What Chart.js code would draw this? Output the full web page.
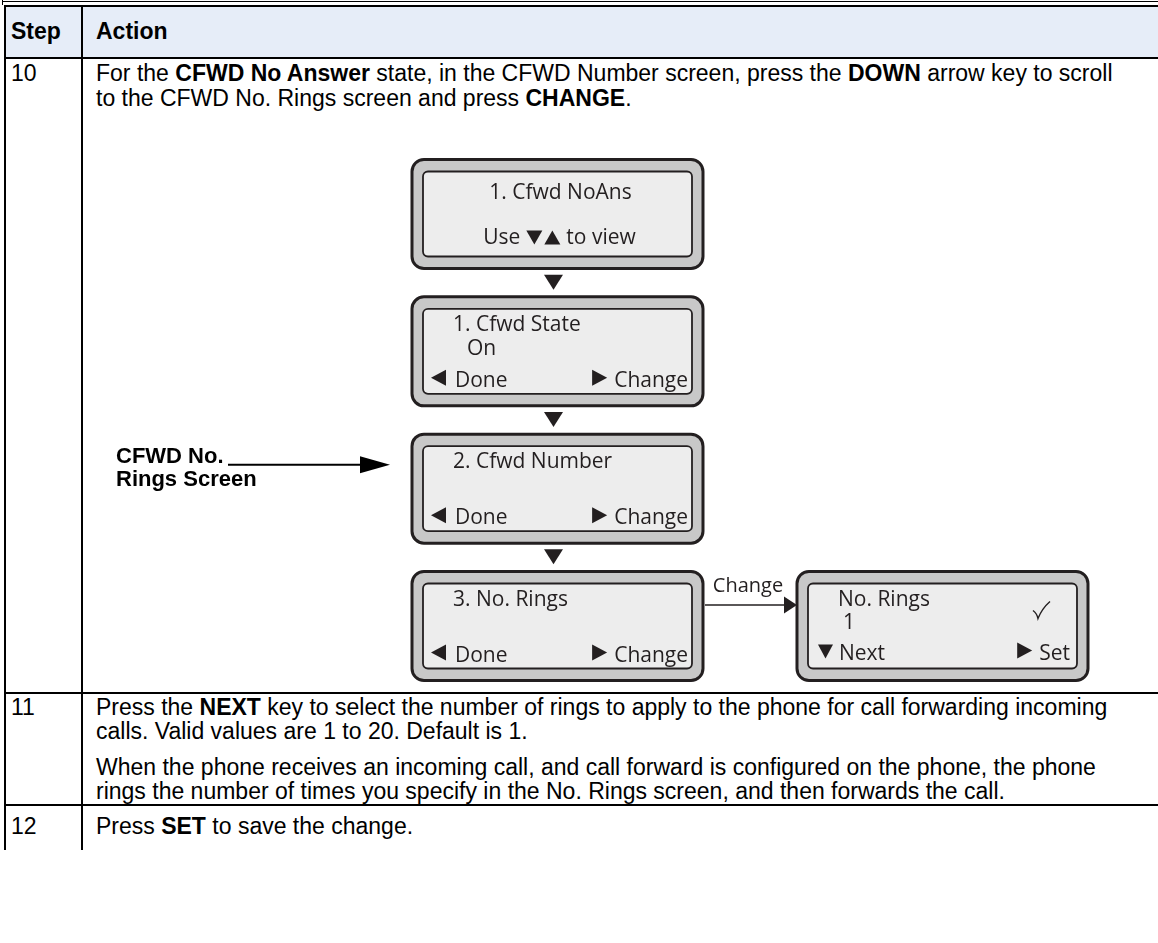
<!DOCTYPE html>
<html><head><meta charset="utf-8">
<script src="https://cdn.jsdelivr.net/npm/chart.js@4.4.1/dist/chart.umd.min.js"></script>
<style>
html,body{margin:0;padding:0;background:#fff;}
body{width:1158px;height:943px;position:relative;overflow:hidden;font-family:"Liberation Sans",Arial,sans-serif;color:#000;}
.ln{position:absolute;background:#000;}
.hdr{position:absolute;background:#e6edf8;}
.t{position:absolute;font-size:23px;white-space:nowrap;line-height:24px;}
.t b{font-weight:bold;}
#diag{position:absolute;left:90px;top:140px;}
</style></head><body>
<div class="ln" style="left:2px;top:1px;width:1156px;height:1px;"></div>
<div class="ln" style="left:2px;top:0px;width:1px;height:5px;"></div>
<div class="hdr" style="left:6px;top:7px;width:1152px;height:50px;"></div>
<div class="ln" style="left:4px;top:5px;width:1154px;height:2px;"></div>
<div class="ln" style="left:4px;top:57px;width:1154px;height:2px;"></div>
<div class="ln" id="leftB" style="left:4px;top:5px;width:2px;"></div>
<div class="ln" id="colB" style="left:81px;top:5px;width:2px;"></div>
<div class="ln" id="r10" style="left:4px;width:1154px;height:2px;"></div>
<div class="ln" id="r11" style="left:4px;width:1154px;height:2px;"></div>
<div id="texts"></div>
<canvas id="diag" width="1060" height="550"></canvas>
<script>
// ---- table content ----
const headerLabels = ['Step', 'Action'];
const stepNumbers = ['10', '11', '12'];
const row10Lines = [
  'For the <b>CFWD No Answer</b> state, in the CFWD Number screen, press the <b>DOWN</b> arrow key to scroll',
  'to the CFWD No. Rings screen and press <b>CHANGE</b>.'
];
const row11Lines = [
  'Press the <b>NEXT</b> key to select the number of rings to apply to the phone for call forwarding incoming',
  'calls. Valid values are 1 to 20. Default is 1.',
  'When the phone receives an incoming call, and call forward is configured on the phone, the phone',
  'rings the number of times you specify in the No. Rings screen, and then forwards the call.'
];
const row12Lines = ['Press <b>SET</b> to save the change.'];

// ---- diagram content (one entry per phone screen) ----
const screenCols  = [0, 0, 0, 0, 1];
const screenRows  = [0, 1, 2, 3, 3];
const screenTitle = ['1. Cfwd NoAns', '1. Cfwd State', '2. Cfwd Number', '3. No. Rings', 'No. Rings'];
const screenValue = ['Use ▼▲ to view', 'On', '', '', '1'];
const softLeftIcon  = ['', '◀', '◀', '◀', '▼'];
const softLeftText  = ['', 'Done', 'Done', 'Done', 'Next'];
const softRightIcon = ['', '▶', '▶', '▶', '▶'];
const softRightText = ['', 'Change', 'Change', 'Change', 'Set'];
const screenMark  = ['', '', '', '', '✓'];
const connectorLabel = 'Change';
const calloutLines = ['CFWD No.', 'Rings Screen'];
const calloutTarget = 2;

// ---- layout the table text ----
const texts = document.getElementById('texts');
function put(html, x, baseline, bold) {
  const d = document.createElement('div');
  d.className = 't';
  d.style.left = x + 'px';
  d.style.top = (baseline - 20) + 'px';
  if (bold) d.style.fontWeight = 'bold';
  d.innerHTML = html;
  texts.appendChild(d);
}
const TXT_X = 96, STEP_X = 11;
put(headerLabels[0], STEP_X, 39, true);
put(headerLabels[1], TXT_X, 39, true);
put(stepNumbers[0], STEP_X, 81);
row10Lines.forEach((l, i) => put(l, TXT_X, 81 + i * 25));
const r10Bottom = 692;
document.getElementById('r10').style.top = r10Bottom + 'px';
const r11 = [715, 739, 775, 799];
put(stepNumbers[1], STEP_X, r11[0]);
row11Lines.forEach((l, i) => put(l, TXT_X, r11[i]));
const r11Bottom = 804;
document.getElementById('r11').style.top = r11Bottom + 'px';
put(stepNumbers[2], STEP_X, 834);
row12Lines.forEach((l, i) => put(l, TXT_X, 834 + i * 25));
const tableBottom = 850;
document.getElementById('leftB').style.height = (tableBottom - 5) + 'px';
document.getElementById('colB').style.height = (tableBottom - 5) + 'px';

// ---- diagram via Chart.js ----
const BOX_W = 291, BOX_H = 109;
const INK = '#231f20';
const FONT = '"Open Sans", "Noto Sans", sans-serif';

function tri(ctx, dir, x0, y0, w, h) {
  ctx.beginPath();
  if (dir === '▼') { ctx.moveTo(x0, y0); ctx.lineTo(x0 + w, y0); ctx.lineTo(x0 + w / 2, y0 + h); }
  else if (dir === '▲') { ctx.moveTo(x0, y0 + h); ctx.lineTo(x0 + w, y0 + h); ctx.lineTo(x0 + w / 2, y0); }
  else if (dir === '◀') { ctx.moveTo(x0 + w, y0); ctx.lineTo(x0 + w, y0 + h); ctx.lineTo(x0, y0 + h / 2); }
  else { ctx.moveTo(x0, y0); ctx.lineTo(x0, y0 + h); ctx.lineTo(x0 + w, y0 + h / 2); }
  ctx.closePath();
  ctx.fill();
}

function drawScreen(ctx, i, cx, cy) {
  const L = cx - BOX_W / 2, T = cy - BOX_H / 2;
  ctx.save();
  ctx.beginPath();
  ctx.roundRect(L, T, BOX_W, BOX_H, 12);
  ctx.fillStyle = '#c8c8c8';
  ctx.fill();
  ctx.lineWidth = 3;
  ctx.strokeStyle = INK;
  ctx.stroke();
  ctx.beginPath();
  ctx.roundRect(L + 11, T + 12, BOX_W - 22, BOX_H - 24, 5);
  ctx.fillStyle = '#ededed';
  ctx.fill();
  ctx.lineWidth = 1.8;
  ctx.stroke();

  ctx.fillStyle = INK;
  ctx.font = '21px ' + FONT;
  ctx.textBaseline = 'alphabetic';
  const centered = softLeftText[i] === '';
  if (centered) {
    ctx.textAlign = 'center';
    ctx.fillText(screenTitle[i], cx + 3, T + 40);
    const parts = screenValue[i].split(/([▼▲])/).filter(s => s !== '');
    const base = T + 85;
    const widths = parts.map(p => (p === '▼' || p === '▲') ? 17 : ctx.measureText(p.trim()).width);
    const gap = 6;
    const total = widths.reduce((a, b) => a + b, 0) + gap * (parts.length - 1) - 6;
    let x = cx + 2 - total / 2;
    ctx.textAlign = 'left';
    parts.forEach((p, k) => {
      if (p === '▼' || p === '▲') {
        tri(ctx, p, x, base - 14, 16, 14);
        x += 16 + (parts[k + 1] === '▲' || parts[k + 1] === '▼' ? 2 : gap);
      } else {
        ctx.fillText(p.trim(), x, base);
        x += widths[k] + gap;
      }
    });
  } else {
    ctx.textAlign = 'left';
    const isLast = screenMark[i] !== '';
    ctx.fillText(screenTitle[i], L + 41, T + 34);
    if (screenValue[i]) ctx.fillText(screenValue[i], L + (isLast ? 46 : 55), T + (isLast ? 57 : 58));
    const sb = T + (isLast ? 88 : 90);
    if (softLeftIcon[i] === '▼') tri(ctx, '▼', L + 21, sb - 15, 15, 14);
    else tri(ctx, '◀', L + 19, sb - 17, 15, 16);
    ctx.fillText(softLeftText[i], L + (softLeftIcon[i] === '▼' ? 42 : 43), sb);
    ctx.textAlign = 'right';
    const rx = L + BOX_W - (isLast ? 18 : 15);
    ctx.fillText(softRightText[i], rx, sb);
    const tw = ctx.measureText(softRightText[i]).width;
    tri(ctx, '▶', rx - tw - 22, sb - 17, 15, 16);
    if (isLast) {
      ctx.beginPath();
      ctx.lineWidth = 1.4;
      ctx.moveTo(L + 236, T + 39);
      ctx.quadraticCurveTo(L + 240, T + 42, L + 241, T + 47);
      ctx.quadraticCurveTo(L + 245, T + 37, L + 253, T + 30);
      ctx.stroke();
    }
  }
  ctx.restore();
}

const screenPlugin = {
  id: 'screens',
  afterDatasetsDraw(chart) {
    const ctx = chart.ctx;
    const pts = chart.getDatasetMeta(0).data;
    ctx.save();
    ctx.fillStyle = INK;
    // vertical flow arrows in the first column
    for (let i = 0; i < pts.length - 1; i++) {
      if (screenCols[i] === screenCols[i + 1] && screenRows[i + 1] === screenRows[i] + 1) {
        const a = pts[i], b = pts[i + 1];
        const mid = ((a.y + BOX_H / 2) + (b.y - BOX_H / 2)) / 2;
        tri(ctx, '▼', a.x - 4 - 9.5, mid - 8, 19, 15);
      }
    }
    // horizontal "Change" connector
    for (let i = 0; i < pts.length - 1; i++) {
      if (screenRows[i] === screenRows[i + 1] && screenCols[i + 1] === screenCols[i] + 1) {
        const a = pts[i], b = pts[i + 1];
        const x1 = a.x + BOX_W / 2 + 2, x2 = b.x - BOX_W / 2;
        const y = a.y - 21;
        ctx.strokeStyle = INK;
        ctx.lineWidth = 1.5;
        ctx.beginPath();
        ctx.moveTo(x1, y); ctx.lineTo(x2 - 12, y); ctx.stroke();
        tri(ctx, '▶', x2 - 13, y - 8.5, 13, 17);
        ctx.font = '20px ' + FONT;
        ctx.textAlign = 'center';
        ctx.fillText(connectorLabel, (x1 + x2) / 2 - 3, y - 13);
      }
    }
    // callout pointing at the target screen
    const t = pts[calloutTarget];
    const ay = t.y - 24;
    const bx = t.x - BOX_W / 2;
    ctx.fillStyle = '#000';
    ctx.strokeStyle = '#000';
    ctx.font = 'bold 22px "Liberation Sans", Arial, sans-serif';
    ctx.textAlign = 'left';
    ctx.fillText(calloutLines[0], bx - 296, ay - 2);
    ctx.fillText(calloutLines[1], bx - 296, ay + 21);
    ctx.lineWidth = 2;
    ctx.beginPath();
    ctx.moveTo(bx - 184, ay); ctx.lineTo(bx - 50, ay); ctx.stroke();
    tri(ctx, '▶', bx - 52, ay - 8.5, 30, 17);
    ctx.restore();
    pts.forEach((p, i) => drawScreen(ctx, i, p.x, p.y));
  }
};

function build() {
  new Chart(document.getElementById('diag').getContext('2d'), {
    type: 'scatter',
    data: { datasets: [{ data: screenCols.map((c, i) => ({ x: c, y: screenRows[i] })), pointRadius: 0, showLine: false }] },
    options: {
      responsive: false, animation: false, events: [],
      layout: { padding: 0 },
      plugins: { legend: { display: false }, tooltip: { enabled: false } },
      scales: {
        x: { type: 'linear', min: -1.2143, max: 1.5390, display: false },
        y: { type: 'linear', min: -0.5388, max: 3.466, reverse: true, display: false }
      }
    },
    plugins: [screenPlugin]
  });
}
Promise.all([document.fonts.load('21px "Open Sans"'), document.fonts.load('bold 22px "Liberation Sans"')])
  .then(build, build);
</script>
</body></html>
